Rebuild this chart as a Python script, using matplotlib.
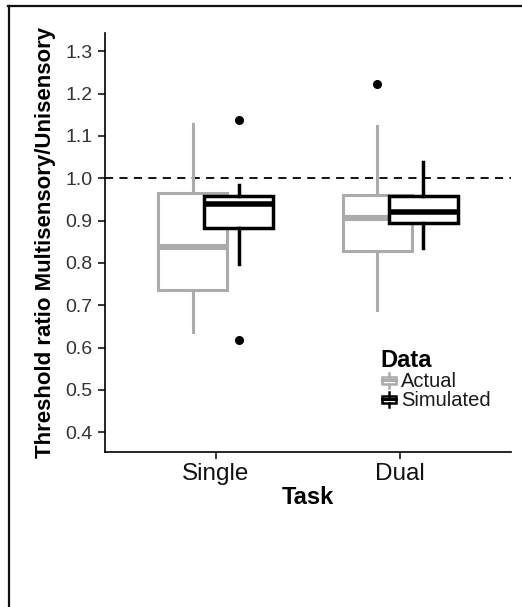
import matplotlib
matplotlib.use("Agg")
import matplotlib.pyplot as plt
from matplotlib.lines import Line2D
from matplotlib.patches import Rectangle
from matplotlib.legend_handler import HandlerBase

plt.rcParams['font.family'] = ['Liberation Sans', 'DejaVu Sans']

# ---- data ----
tasks = ["Single", "Dual"]
series = ["Actual", "Simulated"]
series_colors = ["#ababab", "#000000"]
# per task: [whislo, q1, median, q3, whishi]
actual_stats = [[0.638, 0.735, 0.838, 0.966, 1.128],
                [0.689, 0.827, 0.906, 0.960, 1.124]]
simulated_stats = [[0.798, 0.883, 0.939, 0.958, 0.983],
                   [0.835, 0.895, 0.920, 0.957, 1.038]]
actual_outliers = [[], [1.222]]
simulated_outliers = [[1.138, 0.617], []]
ref_line = 1.0
y_ticks = [0.4, 0.5, 0.6, 0.7, 0.8, 0.9, 1.0, 1.1, 1.2, 1.3]

W, H = 522, 607
fig = plt.figure(figsize=(W / 100, H / 100), dpi=100)
ax = fig.add_axes([105 / W, 1 - 452 / H, 406 / W, 419 / H])

offsets = [-0.125, 0.125]
box_w = 0.375
all_stats = [actual_stats, simulated_stats]
all_out = [actual_outliers, simulated_outliers]
lws = [2.2, 2.5]
med_lws = [4.4, 4.0]

ax.axhline(ref_line, color="black", lw=1.3, ls=(0, (4.5, 3.5)), zorder=1)

for s in range(2):
    bxp_stats = []
    for t in range(2):
        lo, q1, med, q3, hi = all_stats[s][t]
        bxp_stats.append(dict(whislo=lo, q1=q1, med=med, q3=q3, whishi=hi,
                              fliers=all_out[s][t], label=tasks[t]))
    pos = [t + 1 + offsets[s] for t in range(2)]
    c = series_colors[s]
    ax.bxp(bxp_stats, positions=pos, widths=box_w, patch_artist=True,
           showcaps=False, manage_ticks=False,
           boxprops=dict(facecolor="white", edgecolor=c, linewidth=lws[s]),
           whiskerprops=dict(color=c, linewidth=lws[s]),
           medianprops=dict(color=c, linewidth=med_lws[s], solid_capstyle="butt"),
           flierprops=dict(marker="o", markerfacecolor="black",
                           markeredgecolor="black", markersize=5.5),
           zorder=2 + s)

ax.set_xlim(0.4, 2.6)
ax.set_ylim(0.3535, 1.343)
ax.set_xticks([1, 2])
ax.set_xticklabels(tasks, fontsize=17.5, color="#111111")
ax.set_yticks(y_ticks)
ax.set_yticklabels([f"{v:.1f}" for v in y_ticks], fontsize=14, color="#333333")
ax.tick_params(axis="both", length=5, width=1.1, color="black")
ax.tick_params(axis="x", pad=3)
ax.tick_params(axis="y", pad=4)
for sp in ["top", "right"]:
    ax.spines[sp].set_visible(False)
for sp in ["left", "bottom"]:
    ax.spines[sp].set_linewidth(1.2)

ax.set_xlabel("Task", fontsize=17, fontweight="bold", labelpad=1)
ax.set_ylabel("Threshold ratio Multisensory/Unisensory", fontsize=16,
              fontweight="bold", labelpad=7)


class MiniBoxHandler(HandlerBase):
    def create_artists(self, legend, orig_handle, xdescent, ydescent,
                       width, height, fontsize, trans):
        c = orig_handle.get_color()
        x0, w = -xdescent, width
        y0, h = -ydescent, height
        box = Rectangle((x0 + 0.1 * w, y0 + 0.25 * h), 0.8 * w, 0.5 * h,
                        facecolor="white", edgecolor=c, lw=1.8, transform=trans)
        med = Line2D([x0 + 0.1 * w, x0 + 0.9 * w], [y0 + 0.5 * h] * 2,
                     color=c, lw=2.2, transform=trans)
        wh1 = Line2D([x0 + 0.5 * w] * 2, [y0, y0 + 0.25 * h], color=c, lw=1.8,
                     transform=trans)
        wh2 = Line2D([x0 + 0.5 * w] * 2, [y0 + 0.75 * h, y0 + h], color=c,
                     lw=1.8, transform=trans)
        return [box, med, wh1, wh2]


handles = [Line2D([], [], color=series_colors[i]) for i in range(2)]
leg = ax.legend(handles, series, title="Data", loc="upper left",
                bbox_to_anchor=(0.678, 0.245), frameon=False, fontsize=14.5,
                title_fontproperties=dict(weight="bold", size=17),
                handler_map={Line2D: MiniBoxHandler()},
                handlelength=0.85, handleheight=0.75, handletextpad=0.2,
                labelspacing=0.0, borderpad=0, borderaxespad=0)
leg._legend_box.align = "left"
leg._legend_box.sep = 0
for t in leg.get_texts():
    t.set_color("#1a1a1a")

# partial frame (top and left edges)
fig.add_artist(Line2D([8 / W, 1], [1 - 6 / H] * 2, color="#111111", lw=1.6,
                      transform=fig.transFigure))
fig.add_artist(Line2D([9 / W] * 2, [0, 1 - 6 / H], color="#111111", lw=1.6,
                      transform=fig.transFigure))

fig.savefig("out.png", dpi=100, facecolor="white")
